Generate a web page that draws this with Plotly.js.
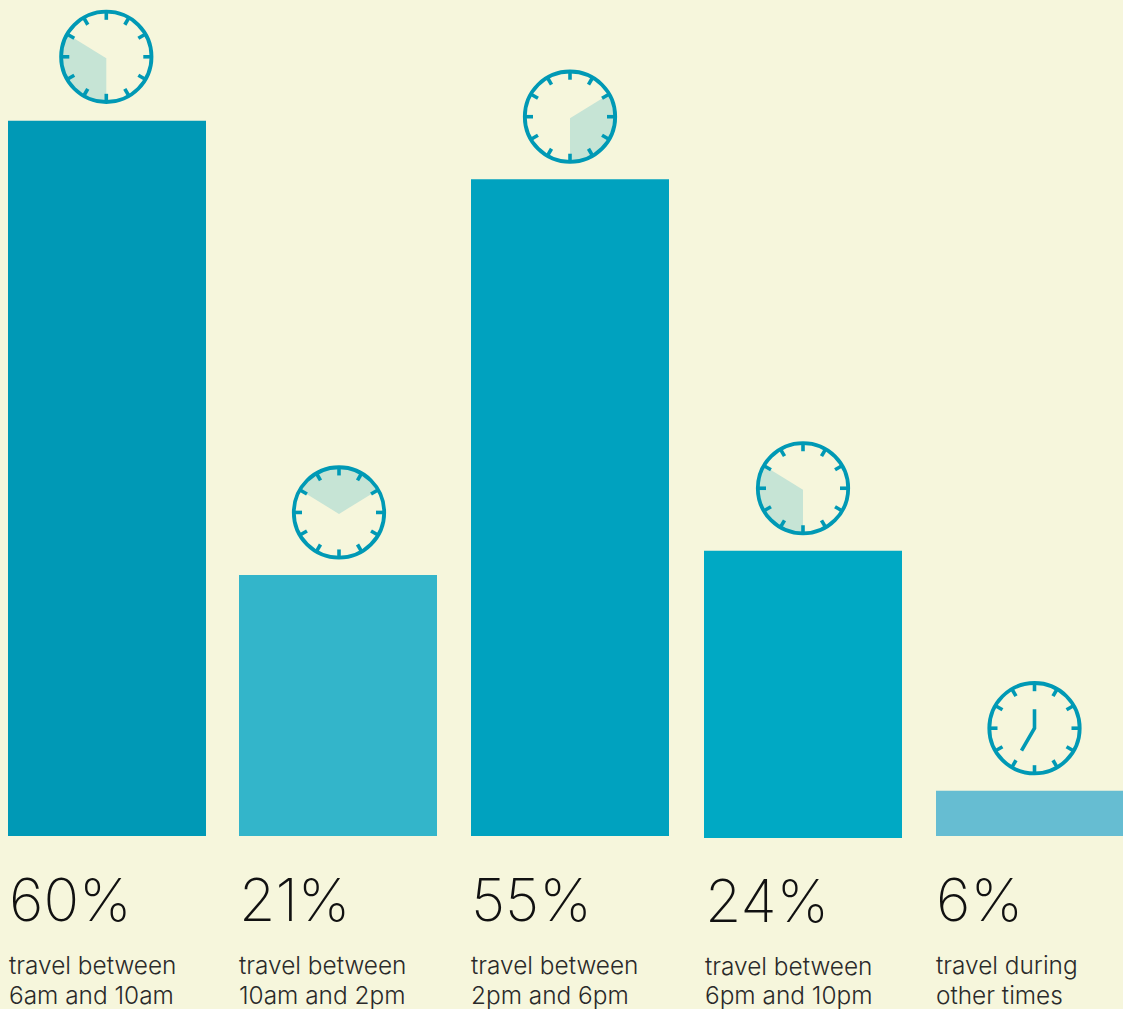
<!DOCTYPE html>
<html>
<head>
<meta charset="utf-8">
<script src="https://cdn.plot.ly/plotly-3.0.1.min.js"></script>
<style>html,body{margin:0;padding:0;background:#f6f6dc;overflow:hidden}#chart{width:1123px;height:1009px}</style>
</head>
<body>
<div id="chart"></div>
<script>
// ---- data ----
const categories = ['6am and 10am', '10am and 2pm', '2pm and 6pm', '6pm and 10pm', 'other times'];
const percentLabels = ['60%', '21%', '55%', '24%', '6%'];
const lineOne = ['travel between', 'travel between', 'travel between', 'travel between', 'travel during'];
const drawnHeights = [60, 21.9, 55.1, 24.1, 3.8];
const drawnBases = [0, 0, 0, -0.17, 0];
const wedgeFromHour = [6, 10, 2, 6, null];
const wedgeToHour = [10, 14, 6, 10, null];
const handHours = [null, null, null, null, [12, 7]];

// ---- styling and layout ----
const barColors = ['#0099b6', '#33b5ca', '#00a2bf', '#00a9c4', '#66bdd2'];
const ink = '#0099b5', wedgeInk = '#c6e4d5', paper = '#f6f6dc';
const W = 1123, H = 1009, pxPerCat = 232, firstCentre = 107, pxPerUnit = 11.92, zeroPx = 836;
const barLeftPx = [8, 239, 471, 704, 936];
const clockCentrePx = [106.3, 339, 570, 803, 1034.5];
const clockRise = [64, 62.5, 62.5, 62.5, 62.5];
const labelLeftPx = [8, 238, 470, 704, 935];
const labelDy = [0, 0, 0, 0.5, 0];
const barWidthPx = 198;

const barOffsets = barLeftPx.map((l, i) => (l - (firstCentre + pxPerCat * i)) / pxPerCat);
const pxToCat = p => (p - firstCentre) / pxPerCat;

const trace = {
  type: 'bar',
  x: categories.map((_, i) => i),
  y: drawnHeights,
  base: drawnBases,
  width: barWidthPx / pxPerCat,
  offset: barOffsets,
  marker: {color: barColors, line: {width: 0}},
  text: categories,
  textposition: 'none',
  hoverinfo: 'y+text'
};

const pt = (r, hour) => {
  const a = hour / 12 * 2 * Math.PI;
  return [r * Math.sin(a), r * Math.cos(a)];
};
const shapes = [];
categories.forEach((_, i) => {
  const anchor = {
    xref: 'x', yref: 'y', xsizemode: 'pixel', ysizemode: 'pixel',
    xanchor: pxToCat(clockCentrePx[i]),
    yanchor: drawnHeights[i] + drawnBases[i]
  };
  const cy = clockRise[i];
  if (wedgeFromHour[i] !== null) {
    let d = `M0,${cy - 1.5}`;
    for (let h = wedgeFromHour[i]; h <= wedgeToHour[i] + 1e-6; h += 1 / 6) {
      const [x, y] = pt(44.5, h);
      d += `L${x.toFixed(2)},${(cy + y).toFixed(2)}`;
    }
    shapes.push({...anchor, type: 'path', path: d + 'Z', fillcolor: wedgeInk, line: {width: 0}});
  }
  for (let h = 0; h < 12; h++) {
    const [x0, y0] = pt(45, h), [x1, y1] = pt(37, h);
    shapes.push({...anchor, type: 'path', path: `M${x0.toFixed(2)},${(cy + y0).toFixed(2)}L${x1.toFixed(2)},${(cy + y1).toFixed(2)}`, line: {color: ink, width: 3.6}});
  }
  shapes.push({...anchor, type: 'circle', x0: -45.2, x1: 45.2, y0: cy - 45.2, y1: cy + 45.2, line: {color: ink, width: 3.8}, fillcolor: 'rgba(0,0,0,0)'});
  if (handHours[i]) {
    const [x0, y0] = pt(19, handHours[i][0]), [x1, y1] = pt(26, handHours[i][1]);
    shapes.push({...anchor, type: 'path', path: `M${x0.toFixed(2)},${(cy + y0).toFixed(2)}L0,${cy}L${x1.toFixed(2)},${(cy + y1).toFixed(2)}`, line: {color: ink, width: 3.6}});
  }
});

const annotations = [];
const textFont = {family: 'Inter, Lato, sans-serif', weight: 300};
categories.forEach((c, i) => {
  const x = labelLeftPx[i] / W;
  annotations.push({xref: 'paper', yref: 'paper', x, y: 1 - (899 + labelDy[i] * 2) / H, xanchor: 'left', yanchor: 'middle',
    text: percentLabels[i], showarrow: false, borderpad: 0, font: {...textFont, size: 59, weight: 200, color: '#111111'}});
  annotations.push({xref: 'paper', yref: 'paper', x, y: 1 - (965 + labelDy[i] * 2) / H, xanchor: 'left', yanchor: 'middle',
    text: lineOne[i], showarrow: false, borderpad: 0, font: {...textFont, size: 24.4, color: '#2a2a2a'}});
  annotations.push({xref: 'paper', yref: 'paper', x, y: 1 - (994.5 + labelDy[i]) / H, xanchor: 'left', yanchor: 'middle',
    text: c, showarrow: false, borderpad: 0, font: {...textFont, size: 24.4, color: '#2a2a2a'}});
});

const layout = {
  width: W, height: H,
  margin: {l: 0, r: 0, t: 0, b: 0, pad: 0},
  paper_bgcolor: paper, plot_bgcolor: paper,
  showlegend: false,
  xaxis: {type: 'linear', range: [-firstCentre / pxPerCat, (W - firstCentre) / pxPerCat], visible: false, fixedrange: true},
  yaxis: {range: [(zeroPx - H) / pxPerUnit, zeroPx / pxPerUnit], visible: false, fixedrange: true},
  shapes, annotations
};
Plotly.newPlot('chart', [trace], layout, {displayModeBar: false, staticPlot: true});
</script>
</body>
</html>
